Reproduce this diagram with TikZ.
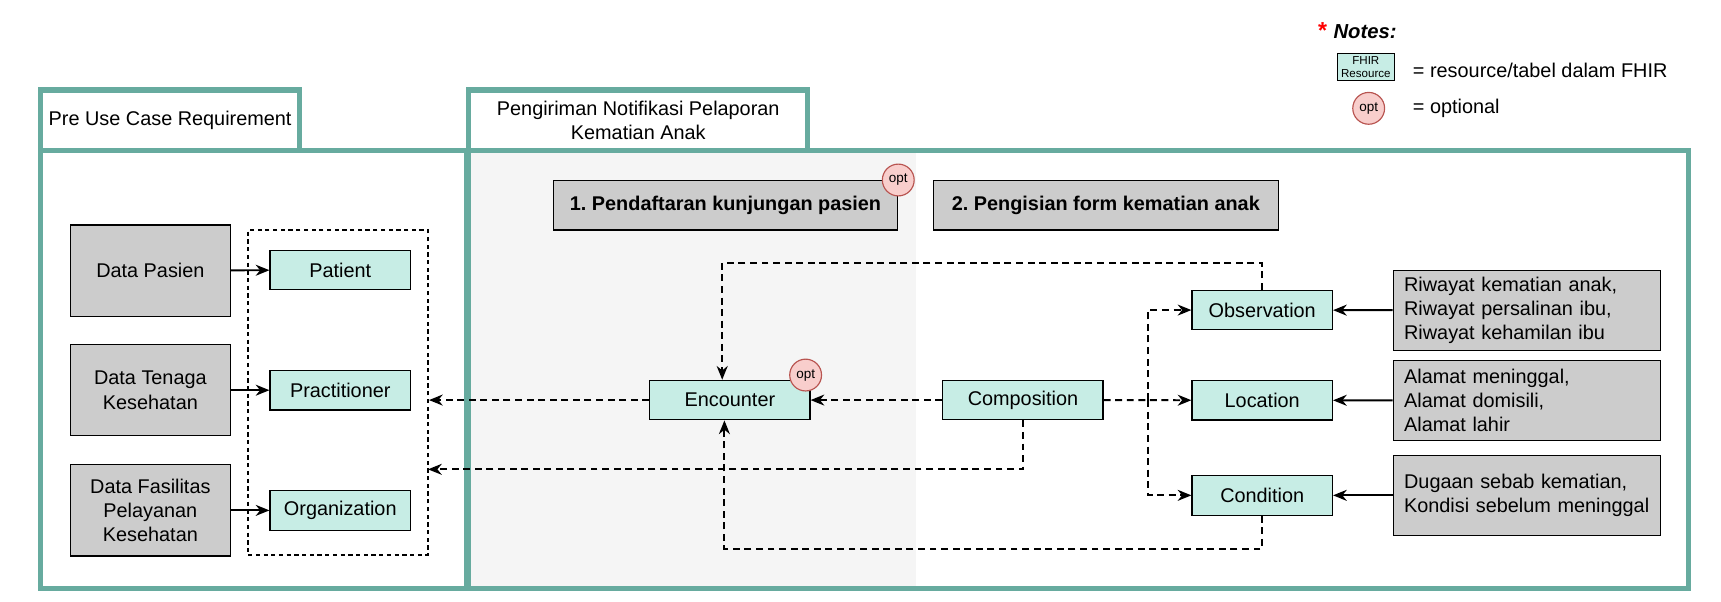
\documentclass[tikz,border=0pt]{standalone}
\usepackage{fontspec}
\setmainfont{Liberation Sans}
\usetikzlibrary{arrows.meta}
\definecolor{framegreen}{HTML}{67AB9F}
\definecolor{fhirfill}{HTML}{C7EDE5}
\definecolor{graybox}{HTML}{CCCCCC}
\definecolor{lightbg}{HTML}{F5F5F5}
\definecolor{optfill}{HTML}{F8CECC}
\definecolor{optline}{HTML}{B85450}
\frenchspacing
\begin{document}
\begin{tikzpicture}[x=0.02cm, y=-0.02cm,
    every node/.style={font=\fontsize{10.3}{12.6}\selectfont},
    fhirbox/.style={draw, fill=fhirfill, line width=0.6pt, minimum width=2.56cm, minimum height=0.72cm, inner sep=0pt},
    databox/.style={draw, fill=graybox, line width=0.6pt, minimum width=2.92cm, minimum height=1.66cm, align=center, inner sep=0pt},
    notebox/.style={draw, fill=graybox, line width=0.6pt, text width=4.47cm, inner xsep=0.2cm, minimum height=1.45cm, align=left},
    stepbox/.style={draw, fill=graybox, line width=0.6pt, minimum width=6.28cm, minimum height=0.9cm, inner sep=0pt, font=\bfseries\fontsize{10.3}{12.6}\selectfont},
    optmark/.style={circle, draw=optline, fill=optfill, line width=0.6pt, minimum size=0.58cm, inner sep=0pt, font=\fontsize{7}{8}\selectfont},
    frame/.style={draw=framegreen, line width=2.6pt},
    link/.style={-{Stealth[length=2.5mm, width=2mm, inset=0.8mm]}, line width=1pt},
    dlink/.style={link, dash pattern=on 3.6pt off 2.4pt},
]
    \useasboundingbox (0,0) rectangle (1568,548);
    % 背景（灰色の領域）
    \fill[lightbg] (429,139) rectangle (835,534);
    % 枠
    \draw[frame] (37,137) rectangle (425,536);
    \draw[frame] (427,137) rectangle (1538,536);
    \draw[frame, fill=white] (37,82) rectangle (273,137);
    \draw[frame, fill=white] (427,82) rectangle (736,137);
    \node (pretitle) at (155,109.5) {Pre Use Case Requirement};
    \node[align=center] (maintitle) at (581.5,109.5) {Pengiriman Notifikasi Pelaporan\\Kematian Anak};
    % 注記
    \node[text=red, font=\bfseries\fontsize{12}{12}\selectfont] (star) at (1205,28) {*};
    \node[anchor=west, inner sep=0pt, font=\bfseries\itshape\fontsize{10.5}{12}\selectfont] (notes) at (1214.6,28.9) {Notes:};
    \node[fhirbox, minimum width=1.04cm, minimum height=0.5cm, align=center, font=\fontsize{6}{6.5}\selectfont] (legfhir) at (1244.4,61) {FHIR\\Resource};
    \node[anchor=west, inner sep=0pt] (legfhirtext) at (1287,63.8) {= resource/tabel dalam FHIR};
    \node[optmark] (legopt) at (1247,98.7) {opt};
    \node[anchor=west, inner sep=0pt] (legopttext) at (1287,98.7) {= optional};
    % 左側：データ
    \node[databox] (pasien) at (137,246.5) {Data Pasien};
    \node[databox] (tenaga) at (137,355.5) {Data Tenaga\\Kesehatan};
    \node[databox] (fasilitas) at (137,465) {Data Fasilitas\\Pelayanan\\Kesehatan};
    \node[draw, line width=1pt, dash pattern=on 2.2pt off 1.8pt, minimum width=3.28cm, minimum height=5.92cm] (group) at (308,357.5) {};
    \node[fhirbox] (patient) at (310,246) {Patient};
    \node[fhirbox] (practitioner) at (310,355.5) {Practitioner};
    \node[fhirbox] (organization) at (310,465) {Organization};
    \draw[link] (pasien) -- (patient);
    \draw[link] (tenaga) -- (practitioner);
    \draw[link] (fasilitas) -- (organization);
    % ステップ
    \node[stepbox] (step1) at (661,187) {1. Pendaftaran kunjungan pasien};
    \node[optmark] (opt1) at (818.4,164) {opt};
    \node[stepbox] (step2) at (1007.5,187) {2. Pengisian form kematian anak};
    % リソース
    \node[fhirbox, minimum width=2.92cm] (encounter) at (665,364.5) {Encounter};
    \node[optmark] (opt2) at (734,341.7) {opt};
    \node[fhirbox, minimum width=2.92cm] (composition) at (932,364.5) {Composition};
    \node[fhirbox] (observation) at (1150,282.5) {Observation};
    \node[fhirbox] (location) at (1150,364.7) {Location};
    \node[fhirbox] (condition) at (1150,451.3) {Condition};
    % 右側：入力データ
    \node[notebox] (obsnote) at (1391,282.75) {Riwayat kematian anak,\\Riwayat persalinan ibu,\\Riwayat kehamilan ibu};
    \node[notebox] (locnote) at (1391,364.75) {Alamat meninggal,\\Alamat domisili,\\Alamat lahir};
    \node[notebox] (connote) at (1391,451.3) {Dugaan sebab kematian,\\Kondisi sebelum meninggal};
    \draw[link] (obsnote) -- (observation);
    \draw[link] (locnote) -- (location);
    \draw[link] (connote) -- (condition);
    % 参照（破線）
    \coordinate (split) at (1046,364.7);
    \coordinate (backpt) at (390,427.6);
    \draw[dlink] (composition) -- (location);
    \draw[dlink] (split) |- (observation);
    \draw[dlink] (split) |- (condition);
    \draw[dlink] (composition) -- (encounter);
    \draw[dlink] (encounter.west) -- (encounter.west -| group.east);
    \draw[dlink] (composition.south) |- (backpt);
    \draw[dlink] (observation.north) -- ++(0,-24.5) -| ([xshift=-0.14cm]encounter.north);
    \draw[dlink] (condition.south) -- ++(0,30) -| ([xshift=-0.1cm]encounter.south);
\end{tikzpicture}
\end{document}
